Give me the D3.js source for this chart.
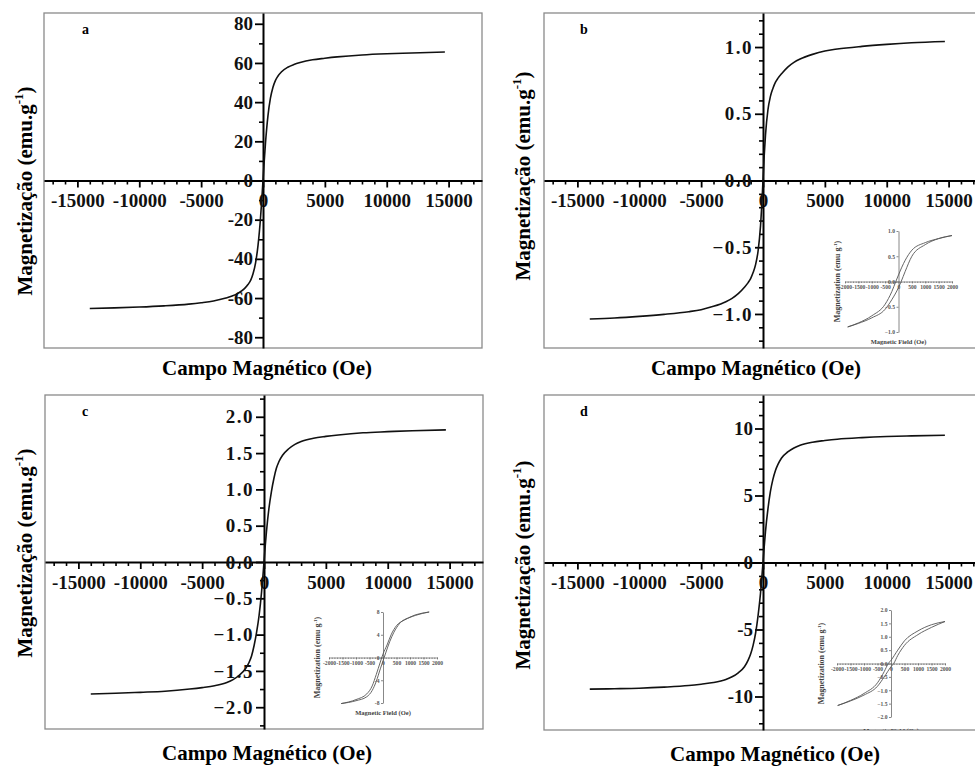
<!DOCTYPE html>
<html><head><meta charset="utf-8">
<script src="https://cdn.jsdelivr.net/npm/d3@7/dist/d3.min.js"></script>
<style>
html,body{margin:0;padding:0;background:#fff;}
</style></head>
<body>
<svg id="chart" width="975" height="767"></svg>
<script>
// ---- main curves (field in Oe, magnetization in emu/g) ----
const fieldH = [-14000,-12000,-10000,-8000,-6000,-5000,-4000,-3000,-2500,-2000,-1500,-1200,-1000,-800,-600,-400,-200,-100,0,
  100,200,400,600,800,1000,1200,1500,2000,2500,3000,4000,5000,6000,8000,10000,12000,14700];
const magA = [-65.3,-65.0,-64.6,-64.0,-63.1,-62.4,-61.5,-60.0,-59.0,-57.5,-55.2,-53.0,-51.0,-47.5,-42.0,-33.0,-19.0,-10.0,0,
  10,19,33,42,47.5,51,53.2,55.5,57.8,59.2,60.2,61.6,62.4,63.1,64.1,64.7,65.1,65.6];
const magB = [-1.038,-1.03,-1.018,-1.003,-0.983,-0.968,-0.943,-0.908,-0.883,-0.848,-0.80,-0.765,-0.735,-0.69,-0.63,-0.53,-0.34,-0.19,0,
  0.19,0.34,0.53,0.63,0.69,0.735,0.765,0.80,0.85,0.885,0.91,0.945,0.97,0.985,1.005,1.02,1.032,1.042];
const magC = [-1.818,-1.808,-1.795,-1.78,-1.75,-1.73,-1.705,-1.66,-1.62,-1.56,-1.47,-1.38,-1.29,-1.15,-0.97,-0.74,-0.42,-0.22,0,
  0.22,0.42,0.74,0.97,1.15,1.29,1.38,1.47,1.56,1.62,1.66,1.705,1.73,1.75,1.78,1.795,1.808,1.82];
const magD = [-9.45,-9.42,-9.38,-9.3,-9.18,-9.08,-8.96,-8.73,-8.53,-8.23,-7.78,-7.28,-6.83,-6.18,-5.28,-3.98,-2.28,-1.18,0,
  1.2,2.3,4.0,5.3,6.2,6.85,7.3,7.8,8.25,8.55,8.75,8.98,9.1,9.2,9.32,9.4,9.45,9.5];

// ---- tick values ----
const xTicksMain = [-15000,-10000,-5000,0,5000,10000,15000];
const yTicksA = [-80,-60,-40,-20,0,20,40,60,80];
const yTicksB = [-1.0,-0.5,0.0,0.5,1.0];
const yTicksC = [-2.0,-1.5,-1.0,-0.5,0.0,0.5,1.0,1.5,2.0];
const yTicksD = [-10,-5,0,5,10];
const insetXTicks = [-2000,-1500,-1000,-500,0,500,1000,1500,2000];
const insetYTicksB = [-1.0,-0.5,0.0,0.5,1.0];
const insetYTicksC = [-8,-4,0,4,8];
const insetYTicksD = [-2.0,-1.5,-1.0,-0.5,0.0,0.5,1.0,1.5,2.0];

// ---- inset hysteresis loops (two branches each) ----
const ibUpH = [-1900,-1500,-1000,-500,-250,-100,0,250,500,1000,1500,2000];
const ibUpM = [-0.9,-0.82,-0.68,-0.45,-0.2,0,0.13,0.42,0.62,0.77,0.85,0.91];
const ibLoH = [-1900,-1500,-1000,-500,-250,0,100,250,500,1000,1500,2000];
const ibLoM = [-0.9,-0.83,-0.72,-0.55,-0.36,-0.12,0,0.2,0.5,0.73,0.85,0.91];
const icUpH = [-1550,-1000,-600,-400,-250,-100,0,150,300,500,800,1200,1710];
const icUpM = [-8.1,-7.4,-6.4,-5.0,-3.0,-0.8,0.6,2.2,4.0,5.6,6.6,7.4,8.0];
const icLoH = [-1550,-1000,-600,-400,-250,-100,0,100,250,400,600,1000,1710];
const icLoM = [-8.1,-7.6,-6.9,-5.8,-4.2,-2.0,-0.6,0.8,2.8,4.4,5.9,7.1,8.0];
const idUpH = [-1975,-1500,-1000,-500,-250,-100,0,250,500,1000,1500,2000];
const idUpM = [-1.57,-1.38,-1.12,-0.72,-0.3,0,0.12,0.5,0.85,1.22,1.45,1.57];
const idLoH = [-1975,-1500,-1000,-500,-250,0,100,250,500,1000,1500,2000];
const idLoM = [-1.57,-1.4,-1.18,-0.85,-0.5,-0.12,0,0.3,0.68,1.08,1.35,1.57];

const panelLetters = ["a","b","c","d"];
const xTitle = "Campo Magnético (Oe)";
const yTitle = "Magnetização (emu.g";
const insetXTitle = "Magnetic Field (Oe)";
const insetYTitle = "Magnetization (emu g";

const FONT = "'Liberation Serif', 'Times New Roman', Times, 'DejaVu Serif', serif";
const svg = d3.select("#chart");
const defs = svg.append("defs");

function T(sel) { return sel.style("font-family", FONT).style("font-weight", "bold"); }
function range(a, b, s) { const r = []; for (let v = a; v <= b + 1e-9; v += s) r.push(+v.toFixed(4)); return r; }

function panel(cfg, idx) {
  const g = svg.append("g");
  const x = d3.scaleLinear().domain([-17700, 17700]).range([cfg.left, cfg.left + 438]);
  const y = d3.scaleLinear().domain([-cfg.ymax, cfg.ymax]).range([cfg.bottom, cfg.top]);
  const id = "clip" + idx;
  defs.append("clipPath").attr("id", id).append("rect")
    .attr("x", cfg.left).attr("y", cfg.top).attr("width", 438).attr("height", cfg.bottom - cfg.top);

  g.append("rect").attr("x", cfg.left).attr("y", cfg.top).attr("width", 438).attr("height", cfg.bottom - cfg.top)
    .attr("fill", "none").attr("stroke", "#8a8a8a").attr("stroke-width", 1.3);

  if (cfg.inset) inset(g.append("g").attr("clip-path", `url(#${id})`), cfg.inset);

  const minorX = range(-17000, 17000, 1000).filter(v => v % 5000 !== 0);
  g.append("g").attr("transform", `translate(0,${y(0)})`)
    .call(d3.axisBottom(x).tickValues(minorX).tickSize(4).tickSizeOuter(0).tickFormat(""))
    .call(s => s.select(".domain").remove())
    .call(s => s.selectAll("line").attr("stroke", "#000").attr("stroke-width", 1.6));
  g.append("g").attr("transform", `translate(${x(0)},0)`)
    .call(d3.axisLeft(y).tickValues(cfg.yMinor).tickSize(4).tickSizeOuter(0).tickFormat(""))
    .call(s => s.select(".domain").remove())
    .call(s => s.selectAll("line").attr("stroke", "#000").attr("stroke-width", 1.6));

  const gx = g.append("g").attr("transform", `translate(0,${y(0)})`)
    .call(d3.axisBottom(x).tickValues(xTicksMain).tickSize(7).tickPadding(6.5).tickSizeOuter(0).tickFormat(d => String(d)));
  gx.select(".domain").attr("stroke", "#000").attr("stroke-width", 2);
  gx.selectAll("line").attr("stroke", "#000").attr("stroke-width", 1.8);
  T(gx.selectAll("text")).attr("font-size", 19).attr("fill", "#111");

  const gy = g.append("g").attr("transform", `translate(${x(0)},0)`)
    .call(d3.axisLeft(y).tickValues(cfg.yTicks).tickSize(8).tickPadding(2).tickSizeOuter(0).tickFormat(cfg.fmt));
  gy.select(".domain").attr("stroke", "#000").attr("stroke-width", 2);
  gy.selectAll("line").attr("stroke", "#000").attr("stroke-width", 1.8);
  T(gy.selectAll("text")).attr("font-size", 19).attr("fill", "#111").attr("letter-spacing", cfg.ls || 0);

  const pts = fieldH.map((h, i) => [h, cfg.mag[i]]);
  g.append("path").datum(pts).attr("fill", "none").attr("stroke", "#111").attr("stroke-width", 1.6)
    .attr("d", d3.line().x(d => x(d[0])).y(d => y(d[1])).curve(d3.curveMonotoneX));

  T(g.append("text")).attr("x", cfg.letterX).attr("y", cfg.top + 21).attr("font-size", 14).text(panelLetters[idx]);

  T(g.append("text")).attr("x", cfg.xTitleX).attr("y", cfg.xTitleY).attr("text-anchor", "middle")
    .attr("font-size", 21).text(xTitle);
  const yt = T(g.append("text")).attr("transform", `translate(${cfg.yTitleX},${cfg.yTitleY}) rotate(-90)`)
    .attr("text-anchor", "middle").attr("font-size", 21);
  yt.append("tspan").text(yTitle);
  yt.append("tspan").attr("font-size", 13).attr("dy", -9).text("-1");
  yt.append("tspan").attr("dy", 9).text(")");
}

function inset(g, c) {
  const x = d3.scaleLinear().domain([-2000, 2000]).range([c.x0, c.x1]);
  const y = d3.scaleLinear().domain([-c.ymax, c.ymax]).range([c.y0, c.y1]);
  const col = "#6a6a6a";
  const gx = g.append("g").attr("transform", `translate(0,${y(0)})`)
    .call(d3.axisBottom(x).tickValues(range(-2000, 2000, 100)).tickSize(1.5).tickSizeOuter(0).tickFormat(""));
  gx.selectAll("line,path").attr("stroke", col).attr("stroke-width", 0.7);
  const gx2 = g.append("g").attr("transform", `translate(0,${y(0)})`)
    .call(d3.axisBottom(x).tickValues(insetXTicks).tickSize(2).tickPadding(1.5).tickSizeOuter(0).tickFormat(d => String(d)));
  gx2.select(".domain").remove();
  gx2.selectAll("line").attr("stroke", col).attr("stroke-width", 0.7);
  T(gx2.selectAll("text")).attr("font-size", 5.6).attr("fill", "#555");
  const gy = g.append("g").attr("transform", `translate(${x(0)},0)`)
    .call(d3.axisLeft(y).tickValues(c.yTicks).tickSize(2).tickPadding(1.5).tickSizeOuter(0).tickFormat(c.fmt));
  gy.selectAll("line,path").attr("stroke", col).attr("stroke-width", 0.8);
  T(gy.selectAll("text")).attr("font-size", 5.6).attr("fill", "#555");

  const line = d3.line().x(d => x(d[0])).y(d => y(d[1])).curve(d3.curveMonotoneX);
  [[c.upH, c.upM], [c.loH, c.loM]].forEach(([H, M]) => {
    g.append("path").datum(H.map((h, i) => [h, M[i]])).attr("fill", "none")
      .attr("stroke", "#555").attr("stroke-width", 0.9).attr("d", line);
  });
  T(g.append("text")).attr("x", (c.x0 + c.x1) / 2).attr("y", c.xtY).attr("text-anchor", "middle")
    .attr("font-size", 6.5).attr("fill", "#444").text(insetXTitle);
  const yt = T(g.append("text")).attr("transform", `translate(${c.ytX},${(c.y0 + c.y1) / 2}) rotate(-90)`)
    .attr("text-anchor", "middle").attr("font-size", 8).attr("fill", "#444");
  yt.append("tspan").text(insetYTitle);
  yt.append("tspan").attr("font-size", 5).attr("dy", -3).text("-1");
  yt.append("tspan").attr("dy", 3).text(")");
}

const f1 = d3.format(".1f");
const fInt = d => String(d);

panel({left: 44, top: 13, bottom: 348, ymax: 85.5, mag: magA, yTicks: yTicksA, yMinor: range(-80, 80, 10).filter(v => v % 20 !== 0),
  fmt: fInt, letterX: 82, xTitleX: 267, xTitleY: 375, yTitleX: 32, yTitleY: 191}, 0);
panel({left: 544, top: 13, bottom: 348, ymax: 1.255, mag: magB, yTicks: yTicksB, yMinor: range(-1.2, 1.2, 0.1).filter(v => Math.abs(Math.round(v * 10)) % 5 !== 0),
  fmt: f1, ls: 1.5, letterX: 580, xTitleX: 756, xTitleY: 375, yTitleX: 530, yTitleY: 176,
  inset: {x0: 845, x1: 952, y0: 332, y1: 231, ymax: 1, yTicks: insetYTicksB, fmt: f1,
    upH: ibUpH, upM: ibUpM, loH: ibLoH, loM: ibLoM, xtY: 344, ytX: 840}}, 1);
panel({left: 45, top: 395, bottom: 729, ymax: 2.3, mag: magC, yTicks: yTicksC, yMinor: range(-2.25, 2.25, 0.5),
  fmt: f1, ls: 1.5, letterX: 82, xTitleX: 267, xTitleY: 760, yTitleX: 32, yTitleY: 553,
  inset: {x0: 329, x1: 437, y0: 703, y1: 612, ymax: 8, yTicks: insetYTicksC, fmt: fInt,
    upH: icUpH, upM: icUpM, loH: icLoH, loM: icLoM, xtY: 715, ytX: 320}}, 2);
panel({left: 544, top: 395, bottom: 730, ymax: 12.5, mag: magD, yTicks: yTicksD, yMinor: range(-12, 12, 1).filter(v => v % 5 !== 0),
  fmt: fInt, letterX: 580, xTitleX: 775, xTitleY: 761, yTitleX: 530, yTitleY: 565,
  inset: {x0: 837, x1: 945, y0: 717, y1: 610, ymax: 2, yTicks: insetYTicksD, fmt: f1,
    upH: idUpH, upM: idUpM, loH: idLoH, loM: idLoM, xtY: 733, ytX: 824}}, 3);
</script>
</body></html>
